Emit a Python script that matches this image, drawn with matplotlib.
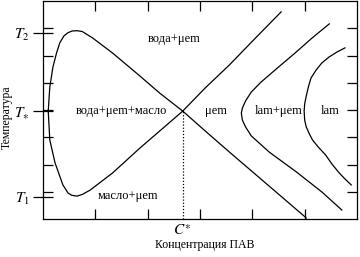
import numpy as np
import matplotlib
matplotlib.use("Agg")
import matplotlib.pyplot as plt

plt.rcParams['font.family'] = ['Liberation Serif', 'DejaVu Serif']
plt.rcParams['mathtext.fontset'] = 'stix'

# boundary of the water+oil+mem region (alpha shaped loop)
loop_x = [4.55, 4.08, 3.56, 3.10, 2.67, 2.23, 1.85, 1.33, 0.90, 0.75, 0.65, 0.55,
          0.48, 0.38, 0.23, 0.13, 0.10, 0.13, 0.19, 0.26, 0.32, 0.40, 0.48, 0.56,
          0.65, 0.75, 0.95, 1.33, 1.85, 2.23, 2.67, 3.10, 3.56, 4.32, 5.03]
loop_y = [7.60, 6.68, 5.65, 4.81, 3.96, 3.23, 2.60, 1.69, 1.06, 0.90, 0.84, 0.87,
          0.95, 1.25, 2.06, 2.90, 3.96, 4.84, 5.58, 6.10, 6.46, 6.72, 6.84, 6.90,
          6.91, 6.88, 6.64, 6.09, 5.25, 4.62, 3.96, 3.23, 2.46, 1.21, 0.04]

# lam+mem boundary
lm_x = [5.47, 5.14, 4.84, 4.46, 4.17, 3.98, 3.87, 3.81, 3.79, 3.81, 3.87, 3.98,
        4.17, 4.32, 4.84, 5.33, 5.71]
lm_y = [7.16, 6.64, 6.13, 5.51, 5.03, 4.66, 4.33, 4.07, 3.89, 3.63, 3.38, 3.05,
        2.72, 2.46, 1.73, 0.99, 0.33]

# lam boundary
lam_x = [5.77, 5.62, 5.47, 5.33, 5.22, 5.12, 5.07, 5.03, 5.00, 4.99, 5.00, 5.03,
         5.09, 5.15, 5.26, 5.40, 5.52, 5.66, 5.77, 5.89]
lam_y = [6.28, 6.13, 5.95, 5.73, 5.47, 5.17, 4.84, 4.51, 4.22, 3.96, 3.63, 3.38,
         3.12, 2.90, 2.64, 2.35, 2.02, 1.69, 1.47, 1.25]

c_star = 2.67
t_star = 3.96
t_ticks = [0.81, 3.96, 6.84]
t_labels = [r'$T_1$', r'$T_{\ast}$', r'$T_2$']

regions = [("вода+μem", 2.51, 6.61),
           ("вода+μem+масло", 1.49, 3.96),
           ("μem", 3.31, 3.96),
           ("lam+μem", 4.51, 3.96),
           ("lam", 5.49, 3.96),
           ("масло+μem", 1.63, 0.83)]

fig = plt.figure(figsize=(3.6, 2.57), dpi=100)
ax = fig.add_axes([43/360, 38/257, 314/360, 218/257])

ax.plot(loop_x, loop_y, color='black', lw=0.9)
ax.plot(lm_x, lm_y, color='black', lw=0.9)
ax.plot(lam_x, lam_y, color='black', lw=0.9)
ax.plot([c_star, c_star], [0, t_star], color='black', lw=0.9, ls=(0, (1, 1.5)))

for txt, x, y in regions:
    ax.text(x, y, txt, ha='center', va='center', fontsize=9)

ax.set_xlim(0, 6)
ax.set_ylim(0, 8)

# regular inward ticks on all sides
ax.set_xticks([1, 2, 3, 4, 5], minor=True)
ax.set_yticks([1, 2, 3, 4, 5, 6, 7], minor=True)
ax.tick_params(which='minor', direction='in', length=7, width=0.9,
               top=True, bottom=True, left=True, right=True)

# labelled ticks
ax.set_xticks([c_star])
ax.set_xticklabels([r'$C^{\ast}$'])
ax.set_yticks(t_ticks)
ax.set_yticklabels(t_labels)
ax.tick_params(axis='x', which='major', length=0, pad=3, labelsize=11)
ax.tick_params(axis='y', which='major', direction='inout', length=15,
               width=0.9, pad=2, labelsize=11, right=False)

for s in ax.spines.values():
    s.set_linewidth(0.9)

ax.set_xlabel("Концентрация ПАВ", fontsize=8.5)
ax.xaxis.set_label_coords(0.516, -0.09)
ax.set_ylabel("Температура", fontsize=8.5)
ax.yaxis.set_label_coords(-0.095, 0.466)

fig.savefig("out.png", dpi=100)
